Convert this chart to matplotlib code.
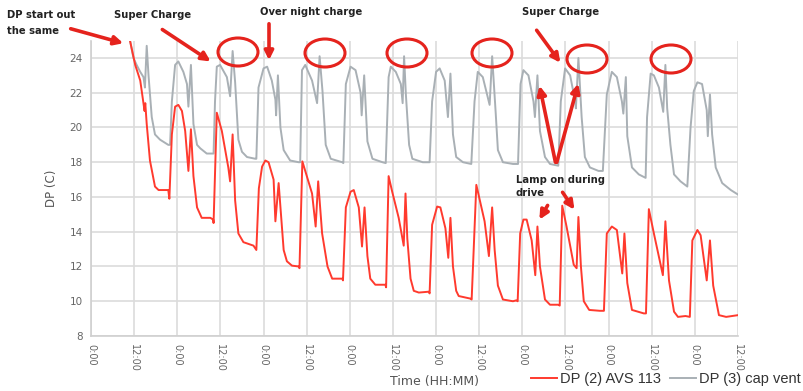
import matplotlib
matplotlib.use('Agg')  # no display
import matplotlib.pyplot as plt
from matplotlib.patches import Ellipse

# Time in hours since the first 0:00 tick, dew point in C
red_hours = [10.9, 12.3, 13.7, 14.9, 15.1, 15.5, 16.4, 17.8, 18.8, 21.5, 21.8,
             22.5, 23.4, 24.3, 25.3, 26.2, 27.1, 27.8, 28.5, 29.5, 30.8, 33.2, 34.0, 34.1,
             35.0, 36.4, 38.2, 38.7, 39.4, 40.1, 41.0, 42.4, 45.2, 46.0,
             46.7, 47.6, 48.5, 49.4, 50.8, 51.3, 52.2, 52.7, 53.6, 54.5, 55.9, 57.8, 58.0,
             58.8, 61.5, 62.5, 63.2, 64.3, 65.8, 67.1, 69.9, 70.1,
             70.9, 72.2, 73.1, 74.5, 75.4, 76.1, 76.9, 77.7, 79.1, 81.9, 82.1,
             82.8, 83.8, 85.6, 87.0, 87.5, 88.0, 88.9, 89.8, 91.2, 94.0, 94.2,
             94.9, 96.3, 97.2, 98.6, 99.4, 100.0, 100.7, 101.6, 102.3, 105.6, 105.9,
             107.2, 109.5, 110.7, 111.6, 112.3, 113.2, 114.6, 117.4, 118.3, 118.7,
             119.4, 120.3, 121.2, 122.6, 123.6, 124.2, 124.9, 126.3, 127.7, 130.0, 130.4,
             131.1, 132.3, 134.3, 135.1, 135.6, 136.3, 137.1, 138.6, 141.6, 142.7,
             143.5, 144.9, 146.3, 147.8, 148.4, 149.2, 150.5, 153.8, 154.4,
             155.2, 156.6, 159.1, 159.8, 160.8, 162.2, 163.3, 165.4, 166.6,
             167.3, 168.7, 169.6, 171.3, 172.2, 173.1, 174.7, 176.7, 180.0]
red_dp = [24.95, 23.6, 22.7, 20.95, 21.4, 20.2, 18.1, 16.6, 16.4, 16.4, 15.9,
          19.6, 21.2, 21.3, 20.95, 19.8, 17.5, 19.9, 17.2, 15.4, 14.8, 14.8, 14.7, 14.5,
          20.85, 19.8, 17.7, 16.9, 19.6, 15.8, 13.9, 13.4, 13.2, 12.95,
          16.5, 17.75, 18.1, 18.0, 17.0, 14.6, 16.8, 15.4, 12.95, 12.3, 12.05, 12.0, 11.9,
          18.05, 16.2, 14.3, 16.9, 13.9, 12.0, 11.3, 11.3, 11.2,
          15.4, 16.3, 16.4, 15.4, 13.15, 15.4, 12.6, 11.3, 10.95, 10.95, 10.8,
          17.2, 16.3, 14.8, 13.2, 16.2, 13.6, 11.3, 10.6, 10.5, 10.55, 10.45,
          14.4, 15.45, 15.4, 14.2, 12.5, 14.8, 12.0, 10.6, 10.3, 10.15, 10.1,
          16.7, 14.6, 12.6, 15.4, 12.95, 10.9, 10.1, 10.0, 10.05, 10.0,
          13.9, 14.7, 14.7, 13.5, 11.5, 14.3, 12.0, 10.1, 9.8, 9.8, 9.75,
          15.5, 14.3, 12.1, 11.9, 14.85, 12.0, 10.0, 9.5, 9.45, 9.45,
          13.9, 14.3, 14.1, 11.6, 13.9, 11.05, 9.5, 9.3, 9.3,
          15.3, 13.9, 11.5, 14.6, 11.2, 9.4, 9.1, 9.15, 9.1,
          13.5, 14.1, 13.8, 11.2, 13.5, 10.9, 9.2, 9.1, 9.2]

gray_hours = [10.9, 11.8, 12.7, 13.7, 14.6, 15.0, 15.5, 16.0, 16.9, 17.8, 19.2, 21.5, 22.0,
              22.5, 23.4, 24.3, 25.7, 26.7, 27.1, 27.8, 28.5, 29.5, 30.4, 32.2, 34.1,
              34.5, 35.0, 35.9, 37.8, 38.7, 39.4, 40.1, 41.0, 42.0, 43.4, 45.7, 46.0,
              46.6, 48.0, 49.0, 50.3, 51.3, 51.5, 52.0, 52.7, 53.6, 55.4, 57.8, 58.2,
              58.7, 59.6, 61.5, 62.9, 63.6, 64.4, 65.3, 66.7, 69.9, 70.2,
              70.9, 72.2, 73.6, 75.0, 75.3, 76.0, 76.9, 78.3, 81.1, 82.0,
              82.8, 83.4, 84.8, 86.2, 86.7, 87.1, 87.6, 88.5, 89.4, 92.3, 94.2,
              94.9, 96.0, 97.0, 98.4, 99.3, 100.0, 100.7, 101.6, 103.5, 105.8,
              106.7, 107.6, 109.0, 110.9, 111.6, 112.6, 113.2, 114.6, 117.4, 118.8,
              119.5, 120.3, 121.7, 123.1, 123.5, 124.2, 124.9, 126.3, 127.7, 130.0,
              130.7, 131.9, 133.3, 134.7, 134.9, 135.6, 136.5, 137.4, 138.8, 141.2, 142.4,
              143.5, 144.9, 146.3, 147.7, 148.1, 148.8, 149.2, 150.5, 152.4, 154.3,
              154.7, 155.7, 156.6, 158.0, 159.2, 159.8, 160.3, 161.2, 162.2, 164.0, 165.9,
              166.8, 167.7, 168.7, 170.0, 171.3, 171.6, 172.2, 172.8, 173.8, 175.6, 178.0, 180.3]
gray_dp = [24.95, 24.0, 23.6, 23.2, 22.9, 22.3, 24.7, 23.0, 20.6, 19.6, 19.3, 19.0, 19.0,
           21.5, 23.6, 23.8, 23.2, 22.5, 21.2, 23.6, 20.2, 19.0, 18.8, 18.5, 18.5,
           21.5, 23.5, 23.6, 22.9, 21.8, 24.4, 22.6, 19.3, 18.6, 18.3, 18.2, 18.2,
           22.3, 23.4, 23.5, 22.7, 21.6, 20.7, 23.0, 20.0, 18.7, 18.1, 18.0, 18.0,
           23.3, 23.6, 22.7, 21.4, 24.1, 22.1, 19.0, 18.2, 18.0, 17.95,
           22.5, 23.5, 23.3, 22.0, 20.7, 23.0, 19.2, 18.2, 18.0, 17.95,
           22.9, 23.5, 23.2, 22.5, 21.4, 24.1, 21.9, 19.0, 18.2, 18.0, 18.0,
           21.5, 23.2, 23.4, 22.7, 20.6, 23.1, 19.6, 18.3, 18.0, 17.9,
           21.5, 23.2, 22.9, 21.3, 24.1, 20.8, 18.7, 18.0, 17.9, 17.9,
           22.5, 23.3, 23.0, 21.5, 20.6, 23.0, 19.8, 18.3, 17.9, 17.8,
           21.5, 23.4, 23.0, 21.5, 21.1, 24.0, 20.6, 18.3, 17.7, 17.5, 17.5,
           21.9, 23.2, 22.9, 21.5, 20.8, 22.9, 19.5, 17.7, 17.3, 17.1,
           20.6, 23.1, 23.0, 22.3, 20.9, 23.6, 21.1, 19.0, 17.3, 16.9, 16.6,
           20.0, 22.1, 22.6, 22.5, 21.0, 19.5, 21.9, 19.6, 17.7, 16.8, 16.4, 16.1]

x_ticks = list(range(0, 181, 12))
x_tick_labels = ['0:00' if t % 24 == 0 else '12:00' for t in x_ticks]
y_ticks = [8, 10, 12, 14, 16, 18, 20, 22, 24]

RED = '#ff3a2e'
GRAY = '#a9b0b5'
NOTE_RED = '#e5231d'
W, H = 804, 391

fig = plt.figure(figsize=(W / 100, H / 100), dpi=100)
fig.patch.set_facecolor('white')
ax = fig.add_axes([91 / W, 1 - 336 / H, (738 - 91) / W, (336 - 40.6) / H])

ax.plot(red_hours, red_dp, color=RED, lw=1.4, label='DP (2) AVS 113', zorder=3)
ax.plot(gray_hours, gray_dp, color=GRAY, lw=1.4, label='DP (3) cap vent', zorder=2)

ax.set_xlim(0, 180)
ax.set_ylim(8, 25)
ax.set_xticks(x_ticks)
ax.set_xticklabels(x_tick_labels, rotation=-90, fontsize=7, color='#666666')
ax.set_yticks(y_ticks)
ax.set_yticklabels([str(v) for v in y_ticks], fontsize=7.5, color='#666666')
ax.tick_params(length=0, pad=6)

# light grid, only left/bottom axis lines
ax.grid(True, color='#dcdcdc', lw=1.2)
ax.set_axisbelow(True)
for side in ['top', 'right']:
    ax.spines[side].set_visible(False)
for side in ['left', 'bottom']:
    ax.spines[side].set_color('#cfcfcf')
    ax.spines[side].set_linewidth(1.2)

ax.set_ylabel('DP (C)', fontsize=8.5, color='#555555', labelpad=8)
fig.text(435 / W, 1 - 381 / H, 'Time (HH:MM)', fontsize=9, color='#555555',
         ha='center', va='center')

leg = fig.legend(loc='center left', bbox_to_anchor=(531 / W, 1 - 379 / H), ncol=2,
                 frameon=False, handlelength=1.8, handletextpad=0.2,
                 columnspacing=0.6, borderpad=0, borderaxespad=0,
                 prop={'family': 'Liberation Sans', 'size': 10.5})
for txt in leg.get_texts():
    txt.set_color('#333333')


def fig_xy(px, py):
    # image pixel coords (top-left origin) -> figure fraction
    return (px / W, 1 - py / H)


def arrow(x0, y0, x1, y1):
    fig.add_artist(matplotlib.patches.FancyArrowPatch(
        fig_xy(x0, y0), fig_xy(x1, y1), transform=fig.transFigure,
        arrowstyle='-|>', mutation_scale=13, color=NOTE_RED, lw=2.6))


note_style = dict(fontsize=7.2, color='#222222', fontweight='semibold',
                  va='center', ha='left')
fig.text(*fig_xy(7, 15), 'DP start out', **note_style)
fig.text(*fig_xy(7, 31), 'the same', **note_style)
fig.text(*fig_xy(114, 15), 'Super Charge', **note_style)
fig.text(*fig_xy(260, 12), 'Over night charge', **note_style)
fig.text(*fig_xy(522, 12), 'Super Charge', **note_style)
fig.text(*fig_xy(516, 180), 'Lamp on during', **note_style)
fig.text(*fig_xy(516, 193), 'drive', **note_style)

arrow(68, 28, 126, 44)
arrow(160, 28, 213, 63)
arrow(269, 21, 269, 63)
arrow(535, 28, 562, 65)
arrow(556, 165, 539, 83)
arrow(556, 165, 579, 81)
arrow(549, 203, 538, 222)
arrow(561, 190, 576, 212)

# circles around the spikes
for cx, cy in [(238, 52), (325, 53), (407, 53), (492, 53), (587, 59), (671, 59)]:
    fig.add_artist(Ellipse(fig_xy(cx, cy), 40 / W, 28 / H, transform=fig.transFigure,
                           fill=False, ec=NOTE_RED, lw=2.2))

fig.savefig('out.png', dpi=100, facecolor=fig.get_facecolor())
